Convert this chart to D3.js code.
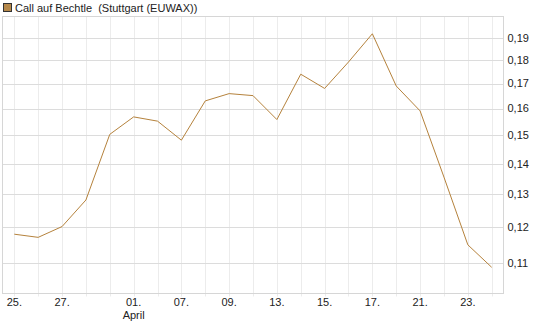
<!DOCTYPE html>
<html>
<head>
<meta charset="utf-8">
<script src="https://cdn.jsdelivr.net/npm/d3@7"></script>
<style>
  body { margin: 0; background: #fff; }
  text { font-family: "Liberation Sans", Arial, sans-serif; font-size: 11px; fill: #222; }
</style>
</head>
<body>
<svg id="chart" width="545" height="327"></svg>
<script>
const title = "Call auf Bechtle  (Stuttgart (EUWAX))";
const dates = ["25.03","26.03","27.03","28.03","31.03","01.04","02.04","07.04","08.04","09.04","10.04",
               "13.04","14.04","15.04","16.04","17.04","20.04","21.04","22.04","23.04","24.04"];
const prices = [0.1180, 0.1171, 0.1202, 0.1282, 0.1503, 0.1568, 0.1552, 0.1482, 0.1630, 0.1659, 0.1651,
                0.1558, 0.1739, 0.1680, 0.1791, 0.1918, 0.1690, 0.1591, 0.1355, 0.1150, 0.1089];
const yTicks = [0.11, 0.12, 0.13, 0.14, 0.15, 0.16, 0.17, 0.18, 0.19];
const labelledDates = ["25.03","27.03","01.04","07.04","09.04","13.04","15.04","17.04","21.04","23.04"];
const monthLabels = { "01.04": "April" };

const svg = d3.select("#chart");
const plotLeft = 2.5, plotRight = 503.5, plotTop = 16.5, plotBottom = 293.5;

const x = d3.scalePoint().domain(dates).range([14.3, 491.7]);
const y = d3.scaleLog().domain([0.1022, 0.2]).range([plotBottom, plotTop]);

// vertical grid
svg.append("g")
  .selectAll("line")
  .data(dates)
  .join("line")
  .attr("x1", d => Math.round(x(d)) + 0.5)
  .attr("x2", d => Math.round(x(d)) + 0.5)
  .attr("y1", plotTop)
  .attr("y2", plotBottom + 3)
  .attr("stroke", "#ececec");

// horizontal grid
svg.append("g")
  .selectAll("line")
  .data(yTicks)
  .join("line")
  .attr("x1", plotLeft)
  .attr("x2", plotRight)
  .attr("y1", d => Math.round(y(d)) + 0.5)
  .attr("y2", d => Math.round(y(d)) + 0.5)
  .attr("stroke", "#dcdcdc");

// frame
svg.append("rect")
  .attr("x", plotLeft)
  .attr("y", plotTop)
  .attr("width", plotRight - plotLeft)
  .attr("height", plotBottom - plotTop)
  .attr("fill", "none")
  .attr("stroke", "#d6d6d6");

// y labels
svg.append("g")
  .selectAll("text")
  .data(yTicks)
  .join("text")
  .attr("x", plotRight + 4)
  .attr("y", d => y(d))
  .attr("dy", "0.35em")
  .text(d => d.toFixed(2).replace(".", ","));

// x labels
svg.append("g")
  .selectAll("text")
  .data(labelledDates)
  .join("text")
  .attr("x", d => x(d))
  .attr("y", 306)
  .attr("text-anchor", "middle")
  .text(d => d.slice(0, 3));

svg.append("g")
  .selectAll("text")
  .data(Object.keys(monthLabels))
  .join("text")
  .attr("x", d => x(d))
  .attr("y", 319)
  .attr("text-anchor", "middle")
  .text(d => monthLabels[d]);

// price line
const line = d3.line()
  .x((d, i) => x(dates[i]))
  .y(d => y(d));

svg.append("path")
  .datum(prices)
  .attr("d", line)
  .attr("fill", "none")
  .attr("stroke", "#b5823c")
  .attr("stroke-width", 1);

// legend
svg.append("rect")
  .attr("x", 3.5)
  .attr("y", 3.5)
  .attr("width", 8)
  .attr("height", 8)
  .attr("fill", "#b5884a")
  .attr("stroke", "#333");

svg.append("text")
  .attr("x", 15)
  .attr("y", 12)
  .style("white-space", "pre")
  .text(title);
</script>
</body>
</html>
